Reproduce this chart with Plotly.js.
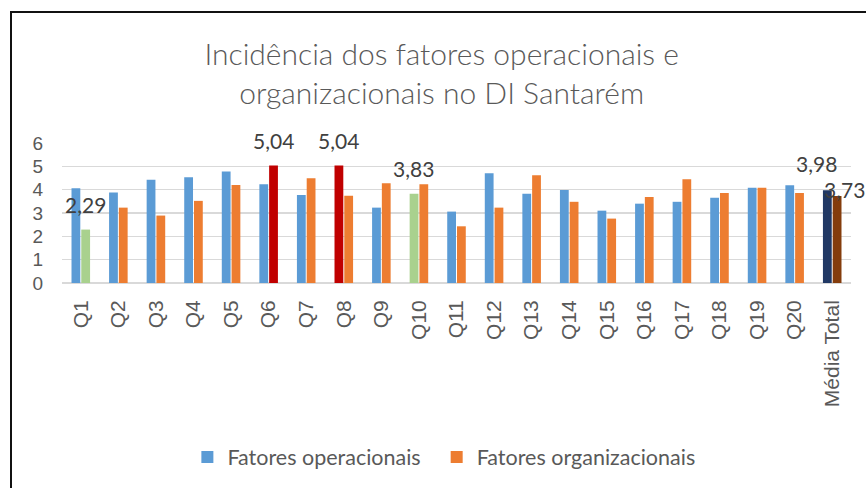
<!DOCTYPE html>
<html>
<head>
<meta charset="utf-8">
<script src="https://cdn.plot.ly/plotly-3.0.1.min.js"></script>
<style>
  html, body { margin: 0; padding: 0; background: #fff; }
  #chart { width: 866px; height: 488px; }
  #frame { position: absolute; left: 10px; top: 11px; right: 0; bottom: 0;
           border-left: 2px solid #111; border-top: 2px solid #111; pointer-events: none; }
</style>
</head>
<body>
<div id="chart"></div>
<div id="frame"></div>
<script>
// ---- data ----
const categories = ['Q1','Q2','Q3','Q4','Q5','Q6','Q7','Q8','Q9','Q10','Q11','Q12','Q13','Q14','Q15','Q16','Q17','Q18','Q19','Q20','Média Total'];
const operacionais    = [4.06, 3.88, 4.42, 4.53, 4.78, 4.23, 3.77, 5.04, 3.23, 3.83, 3.06, 4.70, 3.82, 3.99, 3.10, 3.40, 3.48, 3.65, 4.08, 4.19, 3.98];
const organizacionais = [2.29, 3.23, 2.89, 3.52, 4.20, 5.04, 4.49, 3.74, 4.28, 4.23, 2.43, 3.23, 4.62, 3.48, 2.76, 3.69, 4.45, 3.86, 4.08, 3.86, 3.73];
const seriesNames = ['Fatores operacionais', 'Fatores organizacionais'];
const yTicks = [0, 1, 2, 3, 4, 5, 6];
// highlighted (labelled) points: category + series index
const labelCategories = ['Q1', 'Q6', 'Q8', 'Q10', 'Média Total', 'Média Total'];
const labelSeries     = [1, 1, 0, 0, 0, 1];

// ---- styles ----
const BLUE = '#5B9BD5', ORANGE = '#ED7D31', GREEN = '#A9D18E', RED = '#C00000', NAVY = '#203864', BROWN = '#843C0C';
const opColors  = categories.map(c => c === 'Q8' ? RED : c === 'Q10' ? GREEN : c === 'Média Total' ? NAVY : BLUE);
const orgColors = categories.map(c => c === 'Q1' ? GREEN : c === 'Q6' ? RED : c === 'Média Total' ? BROWN : ORANGE);
const labelShift = [[5, 25], [5, 25], [-5, 25], [-5, 25], [-16, 27], [12, 6]];
const NBSP = '\u00a0';

const seriesVals = [operacionais, organizacionais];
const fmt = v => v.toFixed(2).replace('.', ',');

const traces = [
  { type: 'bar', name: seriesNames[0], x: categories, y: operacionais, offsetgroup: 'a',
    marker: { color: opColors }, legendgroup: 'a', showlegend: false, hoverinfo: 'x+y' },
  { type: 'bar', name: seriesNames[1], x: categories, y: organizacionais, offsetgroup: 'b',
    marker: { color: orgColors }, legendgroup: 'b', showlegend: false, hoverinfo: 'x+y' },
  // legend-only entries with the base colours
  { type: 'bar', name: seriesNames[0] + NBSP.repeat(2), x: [null], y: [null], offsetgroup: 'a', marker: { color: BLUE }, legendgroup: 'a' },
  { type: 'bar', name: seriesNames[1], x: [null], y: [null], offsetgroup: 'b', marker: { color: ORANGE }, legendgroup: 'b' }
];

const annotations = labelCategories.map((c, k) => {
  const i = categories.indexOf(c);
  const v = seriesVals[labelSeries[k]][i];
  return {
    x: c, y: v, xref: 'x', yref: 'y', text: fmt(v), showarrow: false,
    xshift: labelShift[k][0], yshift: labelShift[k][1], yanchor: 'middle', xanchor: 'center',
    font: { family: 'Lato, "Open Sans", sans-serif', size: 21, color: '#404040' }
  };
});

const layout = {
  width: 866, height: 488,
  paper_bgcolor: '#ffffff', plot_bgcolor: '#ffffff',
  margin: { l: 62, r: 15, t: 143, b: 204 },
  title: {
    text: 'Incidência dos fatores operacionais e<br>organizacionais no DI Santarém',
    font: { family: 'Lato, "Open Sans", sans-serif', size: 30, color: '#595959', weight: 300 },
    x: 0.51, xanchor: 'center', y: 0.866, yanchor: 'middle'
  },
  barmode: 'group', bargap: 0.48, bargroupgap: 0.1,
  xaxis: {
    type: 'category', range: [-0.5, categories.length - 0.5],
    tickangle: -90, showgrid: false, showline: false, zeroline: false,
    ticks: '', ticklabelstandoff: 12,
    tickfont: { family: '"Liberation Sans", Arial, sans-serif', size: 21, color: '#595959' }
  },
  yaxis: {
    range: [0, 6], tickvals: yTicks, ticktext: yTicks.map(String),
    showgrid: true, gridcolor: '#D9D9D9', gridwidth: 1.5,
    zeroline: true, zerolinecolor: '#D9D9D9', zerolinewidth: 1.5,
    showline: false, ticks: '', ticklabelstandoff: 18,
    tickfont: { family: '"Liberation Sans", Arial, sans-serif', size: 19, color: '#595959' }
  },
  showlegend: true,
  legend: {
    orientation: 'h', x: 0.484, xanchor: 'center', y: -1.227, yanchor: 'middle',
    font: { family: 'Lato, "Open Sans", sans-serif', size: 21.5, color: '#595959' },
    traceorder: 'normal'
  },
  annotations: annotations
};

Plotly.newPlot('chart', traces, layout, { displayModeBar: false, staticPlot: true });
</script>
</body>
</html>
